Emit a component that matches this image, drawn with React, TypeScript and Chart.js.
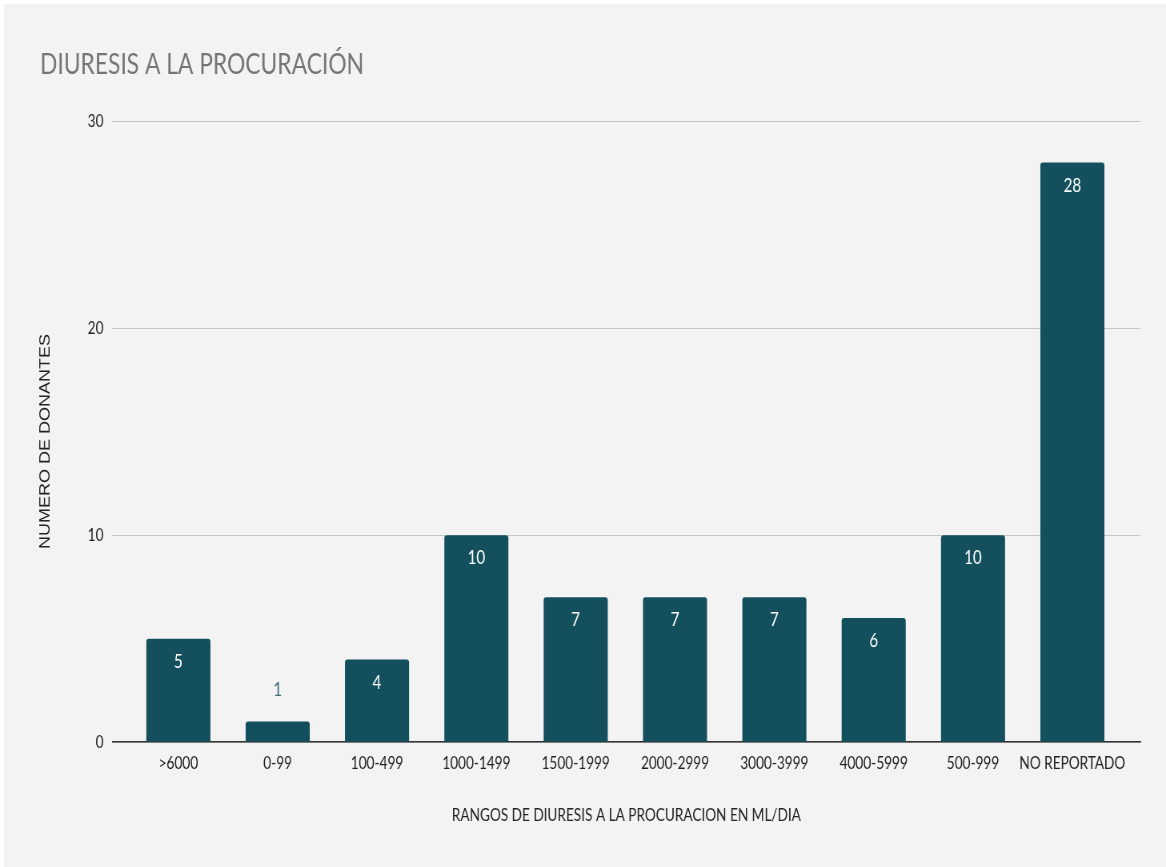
import React, { useEffect, useRef } from "react";
import { Chart, registerables } from "chart.js";

Chart.register(...registerables);

const categories = [
  ">6000",
  "0-99",
  "100-499",
  "1000-1499",
  "1500-1999",
  "2000-2999",
  "3000-3999",
  "4000-5999",
  "500-999",
  "NO REPORTADO",
];
const donors = [5, 1, 4, 10, 7, 7, 7, 6, 10, 28];
const yTicks = [0, 10, 20, 30];
const chartTitle = "DIURESIS A LA PROCURACIÓN";
const xTitle = "RANGOS DE DIURESIS A LA PROCURACION EN ML/DIA";
const yTitle = "NUMERO DE DONANTES";

const BAR = "#134f5c";
const FONT = "Lato, 'Open Sans', sans-serif";
const Y_TITLE_FONT = "18px 'Liberation Sans', Arial, sans-serif";
const PAGE_W = 1162;
const PAGE_H = 863;
const INNER_W = 1452;
const SX = PAGE_W / INNER_W;

const valueLabels = {
  id: "valueLabels",
  afterDatasetsDraw(chart: any) {
    const ctx = chart.ctx;
    const meta = chart.getDatasetMeta(0);
    ctx.save();
    ctx.font = `19px ${FONT}`;
    ctx.textAlign = "center";
    ctx.textBaseline = "middle";
    meta.data.forEach((bar: any, i: number) => {
      const h = bar.base - bar.y;
      const text = String(donors[i]);
      if (h > 40) {
        ctx.fillStyle = "#ffffff";
        ctx.fillText(text, bar.x, bar.y + 23);
      } else {
        ctx.fillStyle = "#3a6c7a";
        ctx.fillText(text, bar.x, bar.y - 32);
      }
    });
    ctx.restore();
  },
};

const yAxisTitle = {
  id: "yAxisTitle",
  afterDraw(chart: any) {
    const ctx = chart.ctx;
    ctx.save();
    ctx.translate((46 - 4) / SX, 437.5);
    ctx.rotate(-Math.PI / 2);
    ctx.font = Y_TITLE_FONT;
    ctx.fillStyle = "#222222";
    ctx.textAlign = "center";
    ctx.textBaseline = "middle";
    ctx.fillText(yTitle, 0, 0);
    ctx.restore();
  },
};

export default function App() {
  const ref = useRef<HTMLCanvasElement | null>(null);

  useEffect(() => {
    if (!ref.current) return;
    const chart = new Chart(ref.current, {
      type: "bar",
      data: {
        datasets: [
          {
            data: donors.map((v, i) => ({ x: i, y: v })),
            backgroundColor: BAR,
            borderRadius: 3,
            borderSkipped: "bottom",
            barPercentage: 0.645,
            categoryPercentage: 1,
          },
        ],
      },
      options: {
        responsive: false,
        animation: false,
        devicePixelRatio: 1,
        layout: { padding: { left: 45, right: 32, top: 0, bottom: 41 } },
        plugins: {
          legend: { display: false },
          tooltip: { enabled: false },
          title: {
            display: true,
            text: chartTitle,
            align: "start",
            color: "#757575",
            font: { family: FONT, size: 28.5, weight: "normal" },
            padding: { top: 44, bottom: 39 },
          },
        },
        scales: {
          x: {
            type: "linear",
            offset: false,
            min: -0.665,
            max: 9.685,
            afterBuildTicks(scale: any) {
              scale.ticks = categories.map((_, i) => ({ value: i }));
            },
            ticks: {
              autoSkip: false,
              maxRotation: 0,
              color: "#222222",
              font: { family: FONT, size: 17 },
              padding: 11,
              callback: (v: any) => categories[v] ?? "",
            },
            grid: { display: false, drawTicks: false },
            border: { display: true, color: "#333333", width: 1.5 },
            title: {
              display: true,
              text: xTitle,
              color: "#222222",
              font: { family: FONT, size: 17 },
              padding: { top: 21, bottom: 0 },
            },
          },
          y: {
            min: 0,
            max: 30,
            afterBuildTicks(scale: any) {
              scale.ticks = yTicks.map((v) => ({ value: v }));
            },
            ticks: {
              color: "#222222",
              font: { family: FONT, size: 17 },
              padding: 11,
            },
            grid: { color: "#c4c4c4", lineWidth: 1, drawTicks: false },
            border: { display: false },
            title: {
              display: true,
              text: yTitle,
              color: "rgba(0,0,0,0)",
              font: { family: "'Liberation Sans', Arial, sans-serif", size: 18 },
              padding: { top: 0, bottom: 27 },
            },
          },
        },
      },
      plugins: [valueLabels, yAxisTitle],
    } as any);
    return () => chart.destroy();
  }, []);

  return (
    <div
      style={{
        position: "fixed",
        left: 4,
        top: 4,
        width: PAGE_W,
        height: PAGE_H,
        background: "#f3f3f3",
        overflow: "hidden",
      }}
    >
      <div
        style={{
          width: INNER_W,
          height: PAGE_H,
          transform: `scaleX(${SX})`,
          transformOrigin: "0 0",
        }}
      >
        <canvas ref={ref} width={INNER_W} height={PAGE_H} style={{ display: "block" }} />
      </div>
    </div>
  );
}
